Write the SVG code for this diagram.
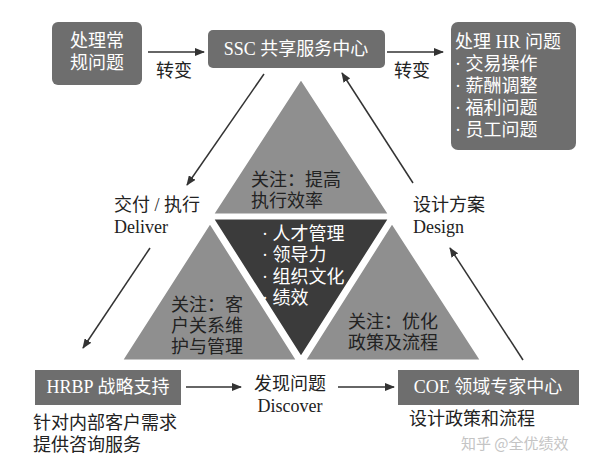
<svg xmlns="http://www.w3.org/2000/svg" width="600" height="465" viewBox="0 0 600 465">
<defs>
<marker id="ah" markerWidth="10" markerHeight="8" refX="9" refY="4" orient="auto" markerUnits="userSpaceOnUse"><path d="M0,0 L10,4 L0,8 Z" fill="#333"/></marker>
</defs>
<style>
text{font-family:"Liberation Serif","Noto Sans CJK SC",serif;font-size:18px;fill:#222}
.w{fill:#fff}
.box{fill:#6e6e6e}
.tri{fill:#8f8f8f;stroke:#fff;stroke-width:3}
.ln{stroke:#333;stroke-width:1.5;fill:none;marker-end:url(#ah)}
</style>
<rect width="600" height="465" fill="#fff"/>
<g id="tri-top"><polygon class="tri" points="301,78 390,215 212,215"/><text x="251" y="186">关注：提高</text><text x="251" y="207">执行效率</text></g>
<g id="tri-center"><polygon points="212,218 390,218 301,358" fill="#3b3b3b" stroke="#fff" stroke-width="3"/><text class="w" x="262" y="240">· 人才管理</text><text class="w" x="262" y="261">· 领导力</text><text class="w" x="262" y="283">· 组织文化</text><text class="w" x="262" y="304">· 绩效</text></g>
<g id="tri-left"><polygon class="tri" points="210,222 298,361 121,361"/><text x="171" y="311">关注：客</text><text x="171" y="332">户关系维</text><text x="171" y="353">护与管理</text></g>
<g id="tri-right"><polygon class="tri" points="392,222 482,361 304,361"/><text x="348" y="328">关注：优化</text><text x="348" y="349">政策及流程</text></g>
<g id="n1"><rect class="box" x="52" y="22" width="90" height="63" rx="6"/><text class="w" x="70" y="47">处理常</text><text class="w" x="70" y="69">规问题</text></g>
<g id="ssc"><rect class="box" x="208" y="30" width="177" height="38" rx="5"/><text class="w" x="296" y="55" text-anchor="middle">SSC 共享服务中心</text></g>
<g id="hr"><rect class="box" x="451" y="22" width="125" height="128" rx="7"/><text class="w" x="455" y="48">处理 HR 问题</text><text class="w" x="455" y="70">· 交易操作</text><text class="w" x="455" y="92">· 薪酬调整</text><text class="w" x="455" y="114">· 福利问题</text><text class="w" x="455" y="136">· 员工问题</text></g>
<g id="hrbp"><rect class="box" x="35" y="370" width="146" height="35"/><text class="w" x="108" y="393" text-anchor="middle">HRBP 战略支持</text><text x="33" y="429">针对内部客户需求</text><text x="33" y="451">提供咨询服务</text></g>
<g id="coe"><rect class="box" x="398" y="370" width="181" height="35"/><text class="w" x="488" y="393" text-anchor="middle">COE 领域专家中心</text><text x="409" y="425">设计政策和流程</text></g>
<g id="connectors">
<line class="ln" x1="148" y1="52" x2="204" y2="52"/>
<line class="ln" x1="387" y1="52" x2="443" y2="52"/>
<line class="ln" x1="264" y1="74" x2="187" y2="185"/>
<line class="ln" x1="150" y1="248" x2="83" y2="348"/>
<line class="ln" x1="413" y1="183" x2="342" y2="73"/>
<line class="ln" x1="523" y1="360" x2="450" y2="248"/>
<line class="ln" x1="186" y1="387" x2="241" y2="387"/>
<line class="ln" x1="338" y1="387" x2="394" y2="387"/>
</g>
<g id="labels">
<text x="461" y="449" style="fill:#c4c4c4;font-size:15px;font-family:'Noto Sans CJK SC',sans-serif">知乎 @全优绩效</text>
<text x="156" y="77">转变</text><text x="394" y="77">转变</text>
<text x="114" y="211">交付 / 执行</text><text x="114" y="233">Deliver</text>
<text x="413" y="211">设计方案</text><text x="413" y="233">Design</text>
<text x="290" y="390" text-anchor="middle">发现问题</text><text x="290" y="412" text-anchor="middle">Discover</text>
</g>
</svg>
